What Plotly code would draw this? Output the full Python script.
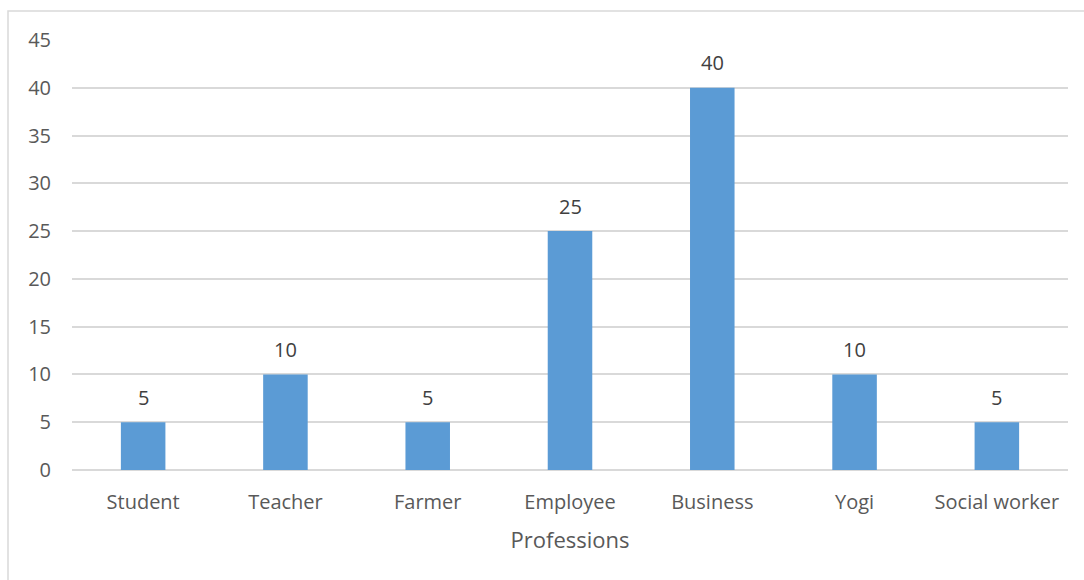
import plotly.graph_objects as go

categories = ["Student", "Teacher", "Farmer", "Employee", "Business", "Yogi", "Social worker"]
values = [5, 10, 5, 25, 40, 10, 5]
y_ticks = [0, 5, 10, 15, 20, 25, 30, 35, 40, 45]

FONT = "Open Sans"
GREY = "#595959"

fig = go.Figure()
fig.add_trace(go.Bar(
    x=categories, y=values,
    marker=dict(color="#5B9BD5", line=dict(width=0)),
    hoverinfo="x+y",
))

for c, v in zip(categories, values):
    fig.add_annotation(x=c, y=v, text=str(v), showarrow=False, yshift=25,
                       font=dict(family=FONT, size=20, color="#404040"))

plot_l, plot_r, plot_t, plot_b = 72, 1068, 40, 470
W, H = 1084, 580
pw, ph = plot_r - plot_l, plot_b - plot_t

fig.add_shape(type="rect", xref="paper", yref="paper",
              x0=(8 - plot_l) / pw, x1=(W + 20 - plot_l) / pw,
              y0=(plot_b - (H + 20)) / ph, y1=(plot_b - 11) / ph,
              line=dict(color="#D9D9D9", width=1.5), fillcolor="rgba(0,0,0,0)", layer="below")

fig.update_layout(
    width=W, height=H,
    margin=dict(l=plot_l, r=W - plot_r, t=plot_t, b=H - plot_b, autoexpand=False),
    paper_bgcolor="white", plot_bgcolor="white",
    bargap=0.687,
    showlegend=False,
    font=dict(family=FONT, size=20, color=GREY),
    xaxis=dict(
        showgrid=False, showline=False, ticks="",
        tickfont=dict(family=FONT, size=20, color=GREY),
        ticklabelstandoff=18,
        title=dict(text="Professions", font=dict(family=FONT, size=22, color=GREY), standoff=18),
    ),
    yaxis=dict(
        range=[0, 45], tickvals=y_ticks, showgrid=True, gridcolor="#D9D9D9", gridwidth=1.5,
        zeroline=True, zerolinecolor="#D9D9D9", zerolinewidth=1.5,
        showline=False, ticks="",
        tickfont=dict(family=FONT, size=20, color=GREY),
        ticklabelstandoff=20,
    ),
)

fig.write_html("out.html")
